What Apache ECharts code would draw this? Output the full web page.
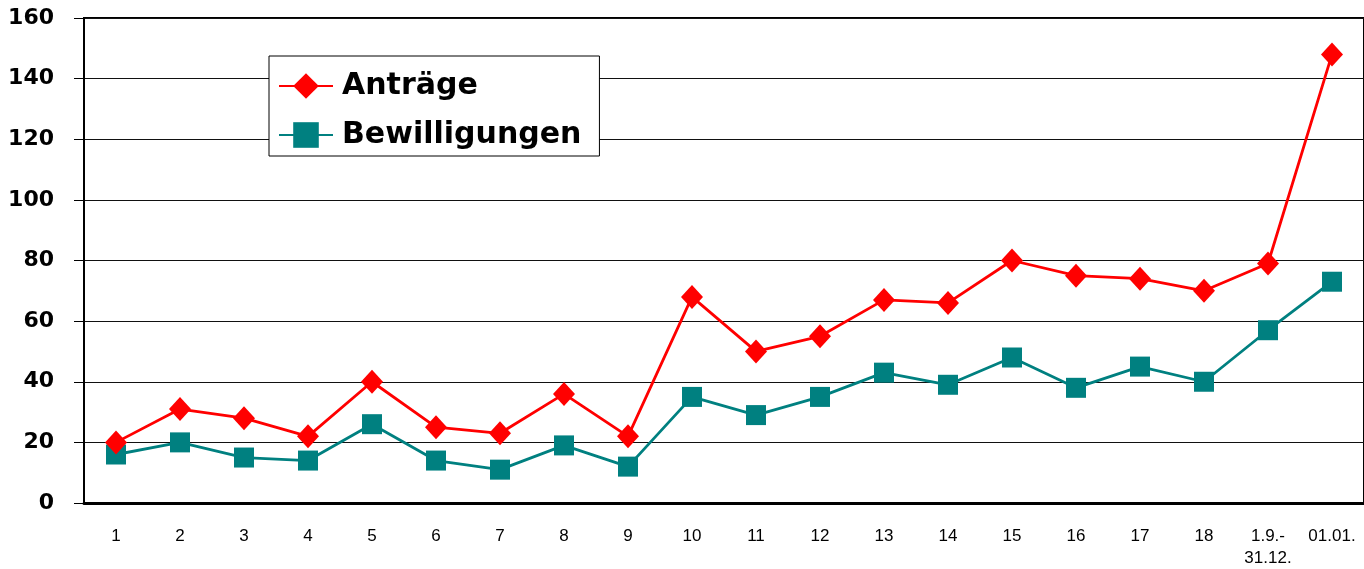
<!DOCTYPE html>
<html>
<head>
<meta charset="utf-8">
<script src="https://cdn.jsdelivr.net/npm/echarts@6/dist/echarts.min.js"></script>
<style>
	html, body { margin: 0; padding: 0; background: #fff; }
	#main { width: 1364px; height: 569px; }
</style>
</head>
<body>
<div id="main"></div>
<script>
	var categories = ['1', '2', '3', '4', '5', '6', '7', '8', '9', '10', '11', '12', '13', '14', '15', '16', '17', '18', '1.9.-\n31.12.', '01.01.'];
	var antraege = [20, 31, 28, 22, 40, 25, 23, 36, 22, 68, 50, 55, 67, 66, 80, 75, 74, 70, 79, 148];
	var bewilligungen = [16, 20, 15, 14, 26, 14, 11, 19, 12, 35, 29, 35, 43, 39, 48, 38, 45, 40, 57, 73];

	var myChart = echarts.init(document.getElementById('main'));

	var option = {
		animation: false,
		backgroundColor: '#fff',
		grid: {
			left: 84,
			right: -2,
			top: 18,
			bottom: 64,
			show: true,
			borderColor: '#000',
			borderWidth: 2
		},
		legend: {
			orient: 'vertical',
			left: 269,
			top: 56,
			backgroundColor: '#fff',
			borderColor: '#000',
			borderWidth: 1,
			borderRadius: 0,
			padding: [15, 18, 6, 9],
			itemWidth: 54,
			itemHeight: 32,
			itemGap: 19,
			data: ['Anträge', 'Bewilligungen'],
			textStyle: {
				fontFamily: 'DejaVu Sans',
				fontWeight: 'bold',
				fontSize: 30,
				color: '#000',
				padding: [0, 0, 0, 4]
			}
		},
		xAxis: {
			type: 'category',
			data: categories,
			boundaryGap: true,
			axisLine: {
				lineStyle: { color: '#000', width: 3 }
			},
			axisTick: { show: false },
			axisLabel: {
				margin: 22,
				fontFamily: 'Liberation Sans',
				fontSize: 17,
				color: '#000',
				lineHeight: 22,
				interval: 0
			}
		},
		yAxis: {
			type: 'value',
			min: 0,
			max: 160,
			interval: 20,
			axisLine: {
				show: true,
				lineStyle: { color: '#000', width: 2 }
			},
			axisTick: {
				show: true,
				length: 10,
				lineStyle: { color: '#000', width: 1 }
			},
			axisLabel: {
				margin: 30,
				fontFamily: 'DejaVu Sans',
				fontWeight: 'bold',
				fontSize: 22,
				color: '#000'
			},
			splitLine: {
				lineStyle: { color: '#111', width: 1.2 }
			}
		},
		series: [{
				name: 'Anträge',
				type: 'line',
				data: antraege,
				color: '#ff0000',
				symbol: 'diamond',
				symbolSize: [22, 24],
				lineStyle: { width: 2.8, color: '#ff0000' },
				itemStyle: { color: '#ff0000' },
				z: 3
			},
			{
				name: 'Bewilligungen',
				type: 'line',
				data: bewilligungen,
				color: '#008080',
				symbol: 'rect',
				symbolSize: 20,
				lineStyle: { width: 2.8, color: '#008080' },
				itemStyle: { color: '#008080' },
				z: 2
			}
		]
	};

	option && myChart.setOption(option);
</script>
</body>
</html>
